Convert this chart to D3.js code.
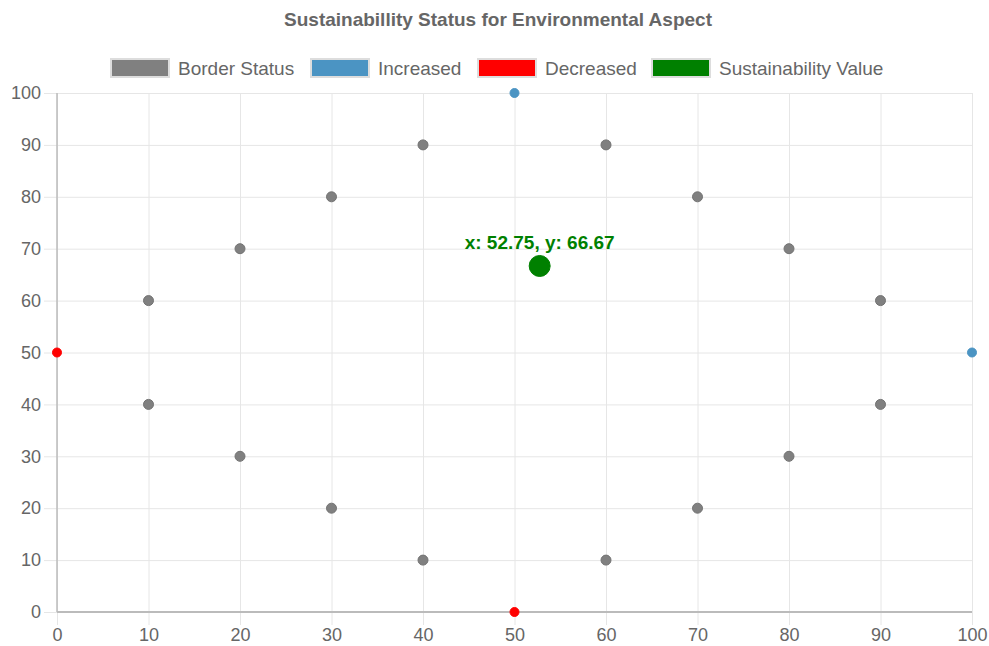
<!DOCTYPE html>
<html>
<head>
<meta charset="utf-8">
<script src="https://cdn.jsdelivr.net/npm/d3@7"></script>
<style>
  body { margin: 0; background: #fff; }
  svg { font-family: "Liberation Sans", Arial, sans-serif; }
  .grid line { stroke: #e6e6e6; }
  .grid path { display: none; }
  .tick text { fill: #666; }
</style>
</head>
<body>
<svg width="989" height="646"></svg>
<script>
//data
const title = "Sustainabillity Status for Environmental Aspect";
const seriesNames = ["Border Status", "Increased", "Decreased", "Sustainability Value"];
const seriesColors = ["#808080", "#4b94c3", "#ff0000", "#008000"];

const borderX = [10, 10, 20, 20, 30, 30, 40, 40, 60, 60, 70, 70, 80, 80, 90, 90];
const borderY = [40, 60, 30, 70, 20, 80, 10, 90, 10, 90, 20, 80, 30, 70, 40, 60];
const increasedX = [50, 100];
const increasedY = [100, 50];
const decreasedX = [0, 50];
const decreasedY = [50, 0];
const sustX = [52.75];
const sustY = [66.67];

const xTicks = [0, 10, 20, 30, 40, 50, 60, 70, 80, 90, 100];
const yTicks = [0, 10, 20, 30, 40, 50, 60, 70, 80, 90, 100];

//constants
const margin = {top: 93, right: 17, bottom: 34, left: 57};
const W = 989, H = 646;
const width = W - margin.left - margin.right;
const height = H - margin.top - margin.bottom;

const svg = d3.select("svg");
const g = svg.append("g")
    .attr("transform", "translate(" + margin.left + "," + margin.top + ")");

//scales
const xScale = d3.scaleLinear().domain([0, 100]).range([0, width]);
const yScale = d3.scaleLinear().domain([0, 100]).range([height, 0]);

//title
svg.append("text")
    .attr("x", 498)
    .attr("y", 26)
    .style("text-anchor", "middle")
    .style("font-size", "19px")
    .style("font-weight", "bold")
    .style("fill", "#666")
    .text(title);

//legend
const legendX = [111, 311, 478, 652];
seriesNames.forEach((name, i) => {
    svg.append("rect")
        .attr("x", legendX[i])
        .attr("y", 59)
        .attr("width", 58)
        .attr("height", 18)
        .style("fill", seriesColors[i])
        .style("stroke", "#ddd")
        .style("stroke-width", 2);
    svg.append("text")
        .attr("x", legendX[i] + 67)
        .attr("y", 75)
        .style("font-size", "19px")
        .style("fill", "#666")
        .text(name);
});

//grid
g.append("g")
    .attr("class", "grid")
    .attr("transform", "translate(0," + height + ")")
    .call(d3.axisBottom(xScale).tickValues(xTicks).tickSize(-height - 0).tickFormat(""))
    .call(a => a.selectAll("line").attr("y1", 13));

g.append("g")
    .attr("class", "grid")
    .call(d3.axisLeft(yScale).tickValues(yTicks).tickSize(-width).tickFormat(""))
    .call(a => a.selectAll("line").attr("x1", -13));

//axes
g.append("g")
    .attr("transform", "translate(0," + height + ")")
    .call(d3.axisBottom(xScale).tickValues(xTicks).tickSize(0).tickPadding(16))
    .call(a => a.select(".domain").remove())
    .call(a => a.selectAll("text").style("font-size", "18px"));

g.append("g")
    .call(d3.axisLeft(yScale).tickValues(yTicks).tickSize(0).tickPadding(16))
    .call(a => a.select(".domain").remove())
    .call(a => a.selectAll("text").style("font-size", "18px"));

g.append("line")
    .attr("x1", 0).attr("x2", width)
    .attr("y1", height).attr("y2", height)
    .style("stroke", "#bbb").style("stroke-width", 2);
g.append("line")
    .attr("x1", 0).attr("x2", 0)
    .attr("y1", 0).attr("y2", height)
    .style("stroke", "#bbb").style("stroke-width", 1.5);

//points
function drawPoints(xs, ys, color, r, stroke) {
    g.selectAll(null)
        .data(xs.map((x, i) => ({x: x, y: ys[i]})))
        .enter()
        .append("circle")
        .attr("cx", d => xScale(d.x))
        .attr("cy", d => yScale(d.y))
        .attr("r", r)
        .style("fill", color)
        .style("stroke", stroke)
        .style("stroke-width", 1);
}

drawPoints(borderX, borderY, seriesColors[0], 5, "#737373");
drawPoints(increasedX, increasedY, seriesColors[1], 4.5, seriesColors[1]);
drawPoints(decreasedX, decreasedY, seriesColors[2], 4.5, seriesColors[2]);
drawPoints(sustX, sustY, seriesColors[3], 10.5, seriesColors[3]);

//label
g.append("text")
    .attr("x", xScale(sustX[0]))
    .attr("y", yScale(sustY[0]) - 17)
    .style("text-anchor", "middle")
    .style("font-size", "19px")
    .style("font-weight", "bold")
    .style("fill", seriesColors[3])
    .text("x: " + sustX[0] + ", y: " + sustY[0]);
</script>
</body>
</html>
